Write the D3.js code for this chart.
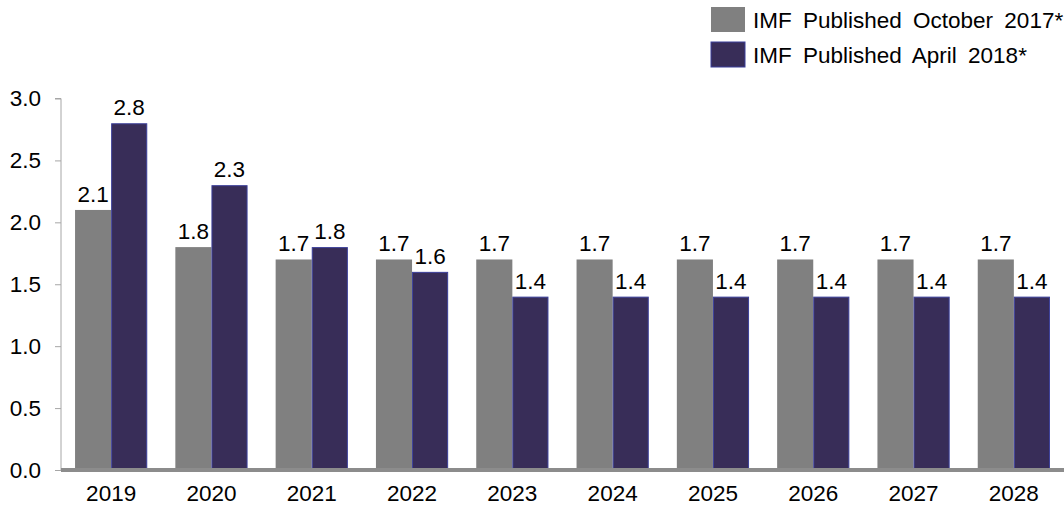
<!DOCTYPE html>
<html>
<head>
<meta charset="utf-8">
<script src="https://cdn.jsdelivr.net/npm/d3@7/dist/d3.min.js"></script>
<style>
  html, body { margin: 0; padding: 0; background: #fff; }
  svg { display: block; font-family: "Liberation Sans", Arial, sans-serif; }
</style>
</head>
<body>
<svg id="chart" width="1064" height="511"></svg>
<script>
// Forecast years and the two IMF vintages
const years = ["2019", "2020", "2021", "2022", "2023", "2024", "2025", "2026", "2027", "2028"];
const oct2017 = [2.1, 1.8, 1.7, 1.7, 1.7, 1.7, 1.7, 1.7, 1.7, 1.7];
const apr2018 = [2.8, 2.3, 1.8, 1.6, 1.4, 1.4, 1.4, 1.4, 1.4, 1.4];
const seriesNames = ["IMF Published October 2017*", "IMF Published April 2018*"];
const yTicks = [0, 0.5, 1.0, 1.5, 2.0, 2.5, 3.0];

const colors = ["#808080", "#382d58"];
const strokes = ["none", "#3b3f9a"];
const fontSize = 22.5;

const svg = d3.select("#chart");
const plotLeft = 61, plotRight = 1064, plotTop = 98.5, plotBottom = 470;

const x = d3.scaleBand().domain(years).range([plotLeft, plotRight]).paddingInner(0.28).paddingOuter(0.14);
const xs = d3.scaleBand().domain([0, 1]).range([0, x.bandwidth()]);
const y = d3.scaleLinear().domain([0, 3]).range([plotBottom, plotTop]);

const series = [oct2017, apr2018];

// y axis
const yAxis = svg.append("g").attr("transform", `translate(${plotLeft},0)`)
  .call(d3.axisLeft(y).tickValues(yTicks).tickFormat(d3.format(".1f")).tickSize(6).tickPadding(14));
yAxis.select(".domain").attr("stroke", "#a6a6a6").attr("d", `M-6,${y(3)}H0V${plotBottom}`);
yAxis.selectAll(".tick line").attr("stroke", "#a6a6a6");
yAxis.selectAll(".tick text").attr("font-size", fontSize).attr("fill", "#000")
  .attr("font-family", "Liberation Sans, Arial, sans-serif");

// bars with value labels
series.forEach((vals, si) => {
  const g = svg.append("g");
  g.selectAll("rect").data(vals).join("rect")
    .attr("x", (d, i) => x(years[i]) + xs(si) + (si ? 0.5 : 0))
    .attr("y", d => y(d) + (si ? 0.5 : 0))
    .attr("width", xs.bandwidth() - (si ? 1 : 0))
    .attr("height", d => y(0) - y(d))
    .attr("fill", colors[si])
    .attr("stroke", strokes[si])
    .attr("stroke-width", si ? 1 : 0);
  g.selectAll("text").data(vals).join("text")
    .attr("x", (d, i) => x(years[i]) + xs(si) + xs.bandwidth() / 2)
    .attr("y", d => y(d) - 8)
    .attr("text-anchor", "middle")
    .attr("font-size", fontSize)
    .attr("fill", "#000")
    .text(d => d3.format(".1f")(d));
});

// x axis baseline
svg.append("rect").attr("x", plotLeft).attr("y", plotBottom - 2).attr("width", plotRight - plotLeft).attr("height", 4).attr("fill", "#8c8c8c");

const xAxis = svg.append("g").attr("transform", `translate(0,${plotBottom})`)
  .call(d3.axisBottom(x).tickSize(0).tickPadding(15));
xAxis.select(".domain").remove();
xAxis.selectAll(".tick text").attr("font-size", fontSize).attr("fill", "#000")
  .attr("font-family", "Liberation Sans, Arial, sans-serif");

// legend
const legend = svg.append("g");
seriesNames.forEach((name, i) => {
  const ly = 7 + i * 35;
  legend.append("rect").attr("x", 711).attr("y", ly).attr("width", 34).attr("height", 25)
    .attr("fill", colors[i]).attr("stroke", i ? "#3b3f9a" : "none").attr("stroke-width", 1);
  legend.append("text").attr("x", 753).attr("y", ly + 20.5).attr("font-size", fontSize)
    .attr("fill", "#000").attr("word-spacing", 5).text(name);
});
</script>
</body>
</html>
